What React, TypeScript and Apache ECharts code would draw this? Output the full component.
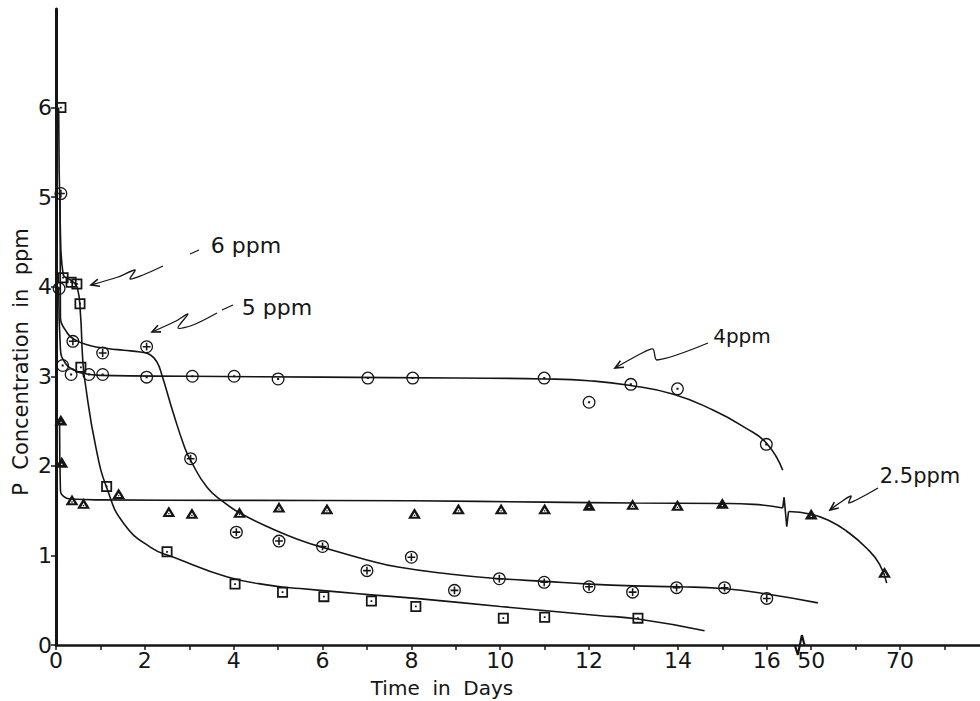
import React, { useEffect, useRef } from "react";
import * as echarts from "echarts";

// ---------- data (days, ppm) ----------
const TICKS_Y = [0, 1, 2, 3, 4, 5, 6];
const TICKS_X_LABELS = [0, 2, 4, 6, 8, 10, 12, 14, 16, 50, 70];
const TICKS_X_MINOR = [0, 1, 2, 3, 4, 5, 6, 7, 8, 9, 10, 11, 12, 13, 14, 15, 16, 50, 60, 70, 80];

const PTS_6PPM = [[0.11, 6.0], [0.16, 4.1], [0.34, 4.05], [0.47, 4.03], [0.54, 3.81], [0.56, 3.1], [1.14, 1.77], [2.5, 1.04], [4.03, 0.68], [5.1, 0.59], [6.03, 0.54], [7.1, 0.49], [8.1, 0.43], [10.07, 0.3], [11.0, 0.31], [13.1, 0.3]];
const CURVE_6PPM = [[0.06, 6.0], [0.1, 4.6], [0.16, 4.14], [0.34, 4.07], [0.48, 3.99], [0.55, 3.7], [0.6, 3.2], [0.65, 2.95], [0.9, 2.2], [1.16, 1.73], [1.52, 1.36], [2.13, 1.09], [2.65, 0.98], [3.86, 0.76], [4.9, 0.66], [5.5, 0.63], [6.4, 0.59], [7.1, 0.56], [8.1, 0.52], [10, 0.43], [12.2, 0.33], [13.1, 0.29], [14.6, 0.16]];

const PTS_5PPM = [[0.11, 5.04], [0.38, 3.39], [1.05, 3.26], [2.04, 3.33], [3.03, 2.08], [4.06, 1.26], [5.02, 1.16], [6.0, 1.1], [7.0, 0.83], [8.0, 0.98], [8.97, 0.61], [9.98, 0.74], [10.99, 0.7], [12.0, 0.65], [12.98, 0.59], [13.97, 0.64], [15.05, 0.64], [16.0, 0.52]];
const CURVE_5PPM = [[0.09, 5.0], [0.1, 3.65], [0.22, 3.51], [0.38, 3.42], [0.78, 3.34], [1.16, 3.31], [1.52, 3.29], [1.9, 3.27], [2.12, 3.24], [2.27, 3.16], [2.38, 3.02], [2.64, 2.59], [2.9, 2.2], [3.03, 2.06], [3.4, 1.76], [3.76, 1.6], [4.15, 1.47], [4.9, 1.29], [5.5, 1.17], [6.0, 1.09], [7.0, 0.95], [7.7, 0.87], [8.9, 0.79], [10, 0.74], [11, 0.71], [12, 0.68], [13, 0.66], [14, 0.65], [15, 0.63], [16, 0.57], [17.15, 0.47]];

const PTS_4PPM = [[0.07, 3.98], [0.15, 3.12], [0.34, 3.02], [0.74, 3.02], [1.05, 3.02], [2.04, 2.99], [3.07, 3.0], [4.01, 3.0], [5.0, 2.97], [7.02, 2.98], [8.03, 2.98], [10.99, 2.98], [12.0, 2.71], [12.94, 2.91], [13.99, 2.86], [15.99, 2.24]];
const CURVE_4PPM = [[0.06, 4.0], [0.1, 3.3], [0.22, 3.14], [0.4, 3.07], [0.63, 3.03], [1, 3.01], [3, 3.0], [6, 2.99], [9, 2.98], [11, 2.97], [12, 2.95], [12.9, 2.9], [13.9, 2.8], [14.8, 2.62], [15.5, 2.43], [16.0, 2.25], [16.36, 1.95]];

const PTS_25PPM_OPEN = [[0.36, 1.62], [0.62, 1.58], [1.41, 1.69], [2.54, 1.49], [3.06, 1.47], [4.13, 1.48], [5.02, 1.54], [6.1, 1.52], [8.07, 1.47], [9.06, 1.52], [10.02, 1.52], [11.0, 1.52], [12.98, 1.57], [13.99, 1.56], [66.5, 0.81]];
const PTS_25PPM_SOLID = [[0.11, 2.51], [0.13, 2.04], [12.0, 1.56], [15.0, 1.58], [50, 1.46]];
const CURVE_25PPM_A = [[0.08, 2.5], [0.1, 1.73], [0.17, 1.66], [0.32, 1.63], [1, 1.62], [4, 1.615], [8, 1.61], [11, 1.595], [13, 1.585], [15, 1.58], [15.7, 1.57], [16.36, 1.53]];
const BREAK_25PPM = [[16.36, 1.53], [16.39, 1.65], [16.45, 1.32], [16.49, 1.49]];
const CURVE_25PPM_B = [[16.49, 1.49], [50, 1.46], [54, 1.39], [58, 1.27], [62.5, 1.08], [65.4, 0.9], [67, 0.69]];
const AXIS_BREAK = [[16.63, 0], [16.7, -0.11], [16.79, 0.11], [16.85, 0]];

// ---------- annotations (pixel positions) ----------
const ARROW_6 = [[163, 266], [143, 275], [130, 279], [135, 270], [118, 277], [91, 285]];
const ARROW_5 = [[217, 313], [193, 325], [178, 328], [188, 314], [176, 321], [152, 332]];
const ARROW_4 = [[708, 343], [657, 360], [653, 349], [644, 352], [615, 368]];
const ARROW_25 = [[878, 488], [849, 503], [851, 496], [838, 504], [830, 510]];
const DASH_6 = [[190, 254], [199, 250]];
const DASH_5 = [[222, 310], [233, 305]];

// broken time axis: days beyond the break (50, 60, 70 ...) are placed one unit per 10 days after 17
const toAxis = (d: number) => (d > 30 ? 17 + (d - 50) / 10 : d);
const mapPts = (arr: number[][]) => arr.map(([d, v]) => [toAxis(d), v]);

const SYM_SQUARE = "path://M0,0H10V10H0Z M1.6,1.6V8.4H8.4V1.6Z M4.2,4.2H5.8V5.8H4.2Z";
const SYM_CPLUS = "path://M0,5A5,5 0 1,0 10,5A5,5 0 1,0 0,5Z M1.0,5A4,4 0 1,1 9,5A4,4 0 1,1 1.0,5Z M4.4,2H5.6V8H4.4Z M2,4.4H8V5.6H2Z";
const SYM_CDOT = "path://M0,5A5,5 0 1,0 10,5A5,5 0 1,0 0,5Z M1.0,5A4,4 0 1,1 9,5A4,4 0 1,1 1.0,5Z M4.2,4.2H5.8V5.8H4.2Z";
const SYM_TRI = "path://M5,0L10,9L0,9Z M5,3.9L3.1,7.4L6.9,7.4Z M4.5,5.7H5.5V6.8H4.5Z";
const SYM_TRI_SOLID = "path://M5,0L10,9L0,9Z M4.5,5.8V6.8H5.5V5.8Z";

const INK = "#151515";
const FONT = "DejaVu Sans";

function arrowGraphic(pts: number[][]) {
  const tip = pts[pts.length - 1];
  const prev = pts[pts.length - 2];
  const ang = Math.atan2(prev[1] - tip[1], prev[0] - tip[0]);
  const L = 9;
  const a = 0.42;
  const h1 = [tip[0] + L * Math.cos(ang + a), tip[1] + L * Math.sin(ang + a)];
  const h2 = [tip[0] + L * Math.cos(ang - a), tip[1] + L * Math.sin(ang - a)];
  return [
    { type: "polyline", shape: { points: pts, smooth: 0.3 }, style: { stroke: INK, fill: null, lineWidth: 1.3 } },
    { type: "polyline", shape: { points: [h1, tip, h2] }, style: { stroke: INK, fill: null, lineWidth: 1.6 } },
  ];
}

function curve(data: number[][], smooth: number | boolean = 0.5, extra: any = {}) {
  return {
    type: "line",
    data: mapPts(data),
    showSymbol: false,
    smooth,
    lineStyle: { color: INK, width: 1.6 },
    silent: true,
    z: 2,
    ...extra,
  };
}

function markers(data: number[][], symbol: string, size: number | number[]) {
  return {
    type: "scatter",
    data: mapPts(data),
    symbol,
    symbolSize: size,
    symbolKeepAspect: true,
    itemStyle: { color: INK, opacity: 1 },
    z: 3,
  };
}

export default function App() {
  const ref = useRef<HTMLDivElement>(null);
  useEffect(() => {
    if (!ref.current) return;
    const chart = echarts.init(ref.current, null, { renderer: "svg" });
    const xLabelAxis = TICKS_X_LABELS.map(toAxis);
    const xTickAxis = TICKS_X_MINOR.map(toAxis);
    chart.setOption({
      animation: false,
      backgroundColor: "#ffffff",
      grid: { left: 56, right: 0, top: 9, bottom: 56, outerBoundsMode: "none", containLabel: false },
      xAxis: {
        type: "value",
        min: 0,
        max: 20.8,
        interval: 1,
        splitLine: { show: false },
        axisLine: { lineStyle: { color: INK, width: 2.6 } },
        axisTick: { show: true, length: 5, customValues: xTickAxis, lineStyle: { color: INK, width: 1.5 } },
        axisLabel: {
          customValues: xLabelAxis,
          color: INK,
          fontSize: 22,
          fontFamily: FONT,
          margin: 4,
          formatter: (v: number) => {
            const i = xLabelAxis.findIndex((u) => Math.abs(u - v) < 1e-6);
            return i >= 0 ? String(TICKS_X_LABELS[i]) : "";
          },
        },
      },
      yAxis: {
        type: "value",
        min: 0,
        max: 7.1,
        interval: 1,
        splitLine: { show: false },
        axisLine: { lineStyle: { color: INK, width: 3 } },
        axisTick: { show: true, length: 5, customValues: TICKS_Y, lineStyle: { color: INK, width: 1.5 } },
        axisLabel: { customValues: TICKS_Y, color: INK, fontSize: 22, fontFamily: FONT, margin: 4 },
      },
      series: [
        curve(CURVE_6PPM),
        curve(CURVE_5PPM),
        curve(CURVE_4PPM),
        curve(CURVE_25PPM_A),
        curve(BREAK_25PPM, false),
        curve(CURVE_25PPM_B),
        curve(AXIS_BREAK, false, { clip: false, lineStyle: { color: INK, width: 2.2 } }),
        markers(PTS_6PPM, SYM_SQUARE, 11),
        markers(PTS_5PPM, SYM_CPLUS, 13),
        markers(PTS_4PPM, SYM_CDOT, 13),
        markers(PTS_25PPM_OPEN, SYM_TRI, [13, 12]),
        markers(PTS_25PPM_SOLID, SYM_TRI_SOLID, [13, 12]),
      ],
      graphic: [
        {
          type: "text",
          x: 21,
          y: 362,
          rotation: Math.PI / 2,
          style: { text: "P  Concentration  in  ppm", font: `21px '${FONT}'`, fill: INK, align: "center", verticalAlign: "middle" },
        },
        {
          type: "text",
          x: 442,
          y: 688,
          style: { text: "Time  in  Days", font: `20px '${FONT}'`, fill: INK, align: "center", verticalAlign: "middle" },
        },
        { type: "text", x: 246, y: 245, style: { text: "6 ppm", font: `22px '${FONT}'`, fill: INK, align: "center", verticalAlign: "middle" } },
        { type: "text", x: 277, y: 307, style: { text: "5 ppm", font: `22px '${FONT}'`, fill: INK, align: "center", verticalAlign: "middle" } },
        { type: "text", x: 742, y: 336, style: { text: "4ppm", font: `20px '${FONT}'`, fill: INK, align: "center", verticalAlign: "middle" } },
        { type: "text", x: 920, y: 476, style: { text: "2.5ppm", font: `21px '${FONT}'`, fill: INK, align: "center", verticalAlign: "middle" } },
        { type: "polyline", shape: { points: DASH_6 }, style: { stroke: INK, fill: null, lineWidth: 1.3 } },
        { type: "polyline", shape: { points: DASH_5 }, style: { stroke: INK, fill: null, lineWidth: 1.3 } },
        ...arrowGraphic(ARROW_6),
        ...arrowGraphic(ARROW_5),
        ...arrowGraphic(ARROW_4),
        ...arrowGraphic(ARROW_25),
      ],
    });
    return () => chart.dispose();
  }, []);
  return <div ref={ref} style={{ position: "fixed", left: 0, top: 0, width: "980px", height: "701px" }} />;
}
